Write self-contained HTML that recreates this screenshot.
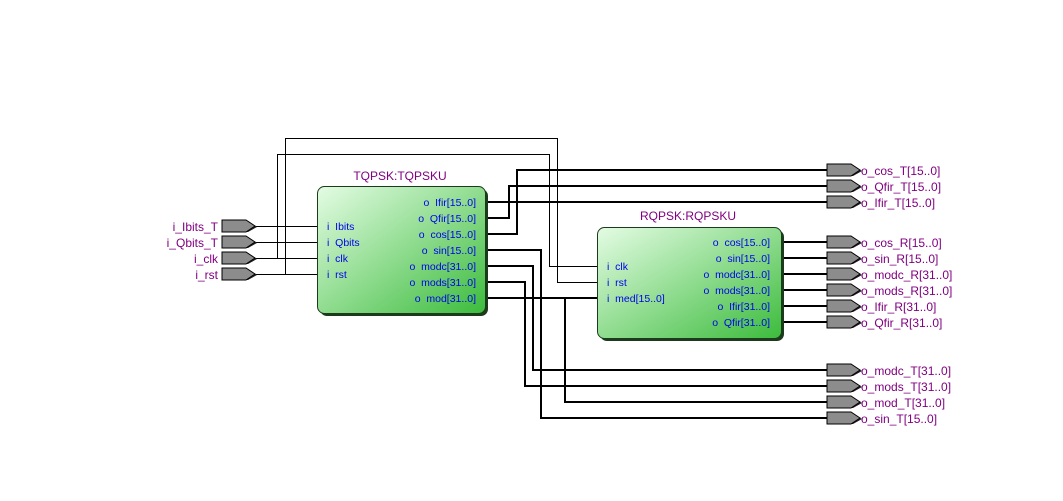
<!DOCTYPE html>
<html><head><meta charset="utf-8"><style>
html,body{margin:0;padding:0;background:#fff;}
svg{display:block;font-family:"Liberation Sans",Arial,sans-serif;font-size:11px;}
.lab{fill:#800080;font-size:12px;}
.p{fill:#0000ee;font-size:10.5px;}
</style></head><body>
<svg width="1063" height="501" viewBox="0 0 1063 501" xmlns="http://www.w3.org/2000/svg">
<defs>
<linearGradient id="g" x1="0" y1="0" x2="1" y2="1">
<stop offset="0" stop-color="#e4fce4"/><stop offset="1" stop-color="#3cbc3c"/>
</linearGradient>
<g id="pin">
<polygon points="2,-4 26,-4 35,1 26,6 2,6" fill="#202020"/>
<polygon points="0,-6 24,-6 33,0 24,6 0,6" fill="#8c8c8c" stroke="#000" stroke-width="1"/>
</g>
</defs>

<g stroke="#000" stroke-width="1" fill="none">
<path d="M255 226.5H318M255 242.5H318M255 258.5H318M255 274.5H318"/>
<path d="M255 258.5H277.5V154.5H549.5V266.5H598"/>
<path d="M255 274.5H285.5V138.5H557.5V282.5H598"/>
</g>
<g stroke="#000" stroke-width="2" fill="none">
<path d="M486 202H827"/>
<path d="M486 218H509V186H827"/>
<path d="M486 234H517V170H827"/>
<path d="M486 250H541V418H827"/>
<path d="M486 266H533V370H827"/>
<path d="M486 282H525V386H827"/>
<path d="M486 298H598"/>
<path d="M565 298V402H827"/>
<path d="M781 242H827M781 258H827M781 274H827M781 290H827M781 306H827M781 322H827"/>
</g>

<rect x="320" y="189" width="168" height="127" rx="7" fill="#1c3a1c"/>
<rect x="317.5" y="186.5" width="168" height="127" rx="7" fill="url(#g)" stroke="#1c3a1c" stroke-width="1"/>
<text x="400" y="180" text-anchor="middle" class="lab">TQPSK:TQPSKU</text>
<g class="p">
<text x="327" y="230">i&#160;&#160;Ibits</text>
<text x="327" y="246">i&#160;&#160;Qbits</text>
<text x="327" y="262">i&#160;&#160;clk</text>
<text x="327" y="278">i&#160;&#160;rst</text>
</g>
<g class="p" text-anchor="end">
<text x="476" y="206">o&#160;&#160;Ifir[15..0]</text>
<text x="476" y="222">o&#160;&#160;Qfir[15..0]</text>
<text x="476" y="238">o&#160;&#160;cos[15..0]</text>
<text x="476" y="254">o&#160;&#160;sin[15..0]</text>
<text x="476" y="270">o&#160;&#160;modc[31..0]</text>
<text x="476" y="286">o&#160;&#160;mods[31..0]</text>
<text x="476" y="302">o&#160;&#160;mod[31..0]</text>
</g>

<rect x="600" y="230" width="184" height="111" rx="7" fill="#1c3a1c"/>
<rect x="597.5" y="227.5" width="184" height="111" rx="7" fill="url(#g)" stroke="#1c3a1c" stroke-width="1"/>
<text x="688" y="220" text-anchor="middle" class="lab">RQPSK:RQPSKU</text>
<g class="p">
<text x="607" y="270">i&#160;&#160;clk</text>
<text x="607" y="286">i&#160;&#160;rst</text>
<text x="607" y="302">i&#160;&#160;med[15..0]</text>
</g>
<g class="p" text-anchor="end">
<text x="770" y="246">o&#160;&#160;cos[15..0]</text>
<text x="770" y="262">o&#160;&#160;sin[15..0]</text>
<text x="770" y="278">o&#160;&#160;modc[31..0]</text>
<text x="770" y="294">o&#160;&#160;mods[31..0]</text>
<text x="770" y="310">o&#160;&#160;Ifir[31..0]</text>
<text x="770" y="326">o&#160;&#160;Qfir[31..0]</text>
</g>

<use href="#pin" x="222" y="226"/>
<use href="#pin" x="222" y="242"/>
<use href="#pin" x="222" y="258"/>
<use href="#pin" x="222" y="274"/>
<g class="lab" text-anchor="end">
<text x="218" y="231">i_Ibits_T</text>
<text x="218" y="247">i_Qbits_T</text>
<text x="218" y="263">i_clk</text>
<text x="218" y="279">i_rst</text>
</g>

<use href="#pin" x="827" y="170"/><use href="#pin" x="827" y="186"/><use href="#pin" x="827" y="202"/>
<use href="#pin" x="827" y="242"/><use href="#pin" x="827" y="258"/><use href="#pin" x="827" y="274"/>
<use href="#pin" x="827" y="290"/><use href="#pin" x="827" y="306"/><use href="#pin" x="827" y="322"/>
<use href="#pin" x="827" y="370"/><use href="#pin" x="827" y="386"/><use href="#pin" x="827" y="402"/>
<use href="#pin" x="827" y="418"/>
<g class="lab">
<text x="861" y="175">o_cos_T[15..0]</text>
<text x="861" y="191">o_Qfir_T[15..0]</text>
<text x="861" y="207">o_Ifir_T[15..0]</text>
<text x="861" y="247">o_cos_R[15..0]</text>
<text x="861" y="263">o_sin_R[15..0]</text>
<text x="861" y="279">o_modc_R[31..0]</text>
<text x="861" y="295">o_mods_R[31..0]</text>
<text x="861" y="311">o_Ifir_R[31..0]</text>
<text x="861" y="327">o_Qfir_R[31..0]</text>
<text x="861" y="375">o_modc_T[31..0]</text>
<text x="861" y="391">o_mods_T[31..0]</text>
<text x="861" y="407">o_mod_T[31..0]</text>
<text x="861" y="423">o_sin_T[15..0]</text>
</g>
</svg>
</body></html>
